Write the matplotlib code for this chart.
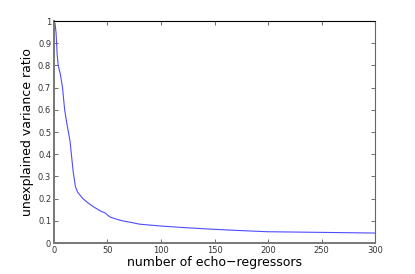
import matplotlib
matplotlib.use('Agg')
import matplotlib.pyplot as plt

# values
n_regressors = [1, 2, 3, 4, 6, 8, 10, 12, 15, 18, 20, 22, 27, 32, 37, 44, 48, 52, 58,
                64, 72, 80, 99, 120, 149, 175, 199, 250, 300]
unexplained = [0.99, 0.945, 0.85, 0.80, 0.76, 0.70, 0.60, 0.54, 0.46, 0.32, 0.255, 0.23,
               0.20, 0.18, 0.163, 0.143, 0.135, 0.118, 0.108, 0.10, 0.093, 0.085, 0.077,
               0.070, 0.062, 0.056, 0.051, 0.048, 0.045]

fig = plt.figure(figsize=(4.15, 2.74), dpi=100)
ax = fig.add_axes([0.130, 0.113, 0.774, 0.810])
ax.plot(n_regressors, unexplained, color=(0.3, 0.3, 1.0), linewidth=0.8)
ax.set_xlim(0, 300)
ax.set_ylim(0, 1)
ax.set_xticks(range(0, 301, 50))
ax.set_yticks([i / 10 for i in range(11)])
ax.set_yticklabels(['0', '0.1', '0.2', '0.3', '0.4', '0.5', '0.6', '0.7', '0.8', '0.9', '1'])
ax.tick_params(direction='in', labelsize=6, length=3, width=0.5, top=True, right=True, pad=2,
               colors='#333333')
ax.spines['left'].set_linewidth(1.4)
ax.spines['left'].set_color('#777777')
ax.spines['bottom'].set_linewidth(1.4)
ax.spines['bottom'].set_color('#777777')
ax.spines['right'].set_linewidth(0.8)
ax.spines['right'].set_color('#666666')
ax.spines['top'].set_linewidth(0.8)
ax.spines['top'].set_color('black')
ax.set_xlabel('number of echo\u2212regressors', fontsize=9, labelpad=1)
ax.set_ylabel('unexplained variance ratio', fontsize=9, labelpad=3)

fig.savefig('out.png', dpi=100)
